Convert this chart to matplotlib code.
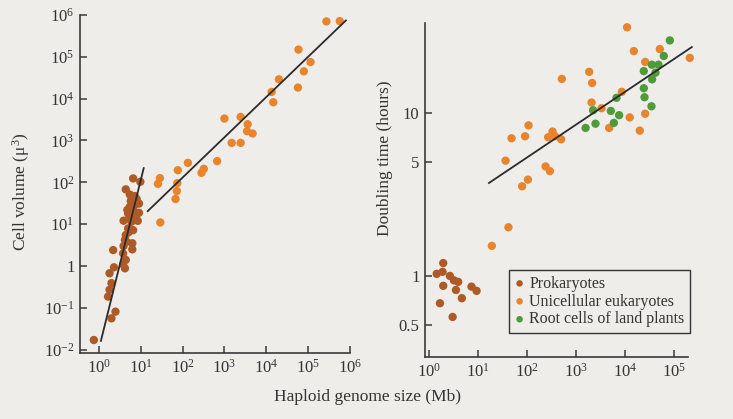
import matplotlib
matplotlib.use("Agg")
import matplotlib.pyplot as plt
from matplotlib.ticker import FixedLocator, NullLocator, FixedFormatter

plt.rcParams['font.family'] = ['Liberation Serif', 'DejaVu Serif']
plt.rcParams['mathtext.fontset'] = 'custom'
plt.rcParams['mathtext.rm'] = 'Liberation Serif'
plt.rcParams['mathtext.it'] = 'Liberation Serif:italic'

# ---------------- data: left panel (cell volume) ----------------
prok_vol_genome = [6.6, 9.8, 4.4, 5.5, 7.2, 9.1, 5.5, 6.6, 9.1, 5.0, 7.6, 3.9, 6.0, 5.0,
                   6.6, 4.4, 4.2, 6.3, 3.9, 2.2, 6.3, 3.8, 4.4, 3.8, 2.3, 4.2, 1.8, 2.0,
                   1.8, 1.66, 2.5, 2.0, 0.76, 8.0, 5.3, 5.8, 7.0, 4.8, 8.5, 5.2, 4.6]
prok_vol = [124, 103, 68, 51, 47, 31, 26, 21.7, 18.7, 18.1, 15, 12.1, 11.4, 7.9,
            7.2, 5.5, 4.2, 3.5, 3.0, 2.4, 2.5, 2.0, 1.4, 1.1, 0.93, 0.88, 0.67, 0.39,
            0.27, 0.185, 0.081, 0.056, 0.017, 40, 14, 36, 28, 22, 12, 6.5, 3.8]

euk_vol_genome = [2.73e5, 5.69e5, 5.87e4, 1.14e5, 7.9e4, 5.7e4, 2.0e4, 1.34e4, 1.47e4,
                  1000, 2440, 3590, 3470, 4720, 1490, 2440, 670, 321, 283, 134, 77, 75,
                  73, 68, 28.8, 25.8, 29.4]
euk_vol = [7.03e5, 7.14e5, 1.49e5, 7.5e4, 4.5e4, 1.84e4, 2.9e4, 1.45e4, 8.2e3,
           3350, 3660, 2450, 1670, 1470, 877, 877, 321, 210, 169, 292, 195, 96,
           62, 40, 126, 92, 11]

prok_vol_fit_x = [1.12, 11.8]
prok_vol_fit_y = [0.0162, 218]
euk_vol_fit_x = [14.7, 8.0e5]
euk_vol_fit_y = [20.5, 7.43e5]

# ---------------- data: right panel (doubling time) ----------------
prok_dt_genome = [1.96, 1.44, 1.9, 2.68, 3.24, 3.96, 1.96, 3.56, 7.4, 9.4, 4.7, 1.68, 3.05]
prok_dt = [1.20, 1.03, 1.06, 1.0, 0.94, 0.92, 0.87, 0.82, 0.86, 0.81, 0.73, 0.68, 0.56]

euk_dt_genome = [1.11e4, 1.53e4, 5.18e4, 2.12e5, 2.6e4, 1870, 2150, 518, 8690, 2090,
                 3340, 1.26e4, 2.6e4, 2.02e4, 4790, 108, 92, 48.7, 334, 272, 378, 501,
                 36.7, 241, 295, 105, 80, 42, 19.3]
euk_dt = [33.6, 24.0, 24.7, 21.8, 20.6, 17.9, 15.3, 16.2, 13.5, 11.6,
          10.7, 9.4, 9.9, 7.8, 8.1, 8.4, 7.2, 7.0, 7.7, 7.1, 7.2, 6.9,
          5.1, 4.7, 4.4, 3.9, 3.55, 1.99, 1.53]

plant_dt_genome = [8.3e4, 6.25e4, 3.56e4, 4.87e4, 2.44e4, 4.23e4, 3.6e4, 2.44e4, 2.52e4,
                   3.5e4, 6770, 2250, 5180, 7650, 5970, 2520, 1580]
plant_dt = [27.9, 22.4, 19.8, 19.8, 18.1, 17.7, 16.1, 14.2, 12.5,
            11.0, 12.4, 10.4, 10.3, 9.7, 8.7, 8.6, 8.1]

dt_fit_x = [16.8, 2.33e5]
dt_fit_y = [3.72, 25.4]

vol_ticks = [1e-2, 1e-1, 1, 10, 100, 1e3, 1e4, 1e5, 1e6]
vol_tick_labels = [r'$10^{-2}$', r'$10^{-1}$', '1', r'$10^{1}$', r'$10^{2}$',
                   r'$10^{3}$', r'$10^{4}$', r'$10^{5}$', r'$10^{6}$']
vol_xticks = [1, 10, 100, 1e3, 1e4, 1e5, 1e6]
vol_xtick_labels = [r'$10^{0}$', r'$10^{1}$', r'$10^{2}$', r'$10^{3}$',
                    r'$10^{4}$', r'$10^{5}$', r'$10^{6}$']
dt_ticks = [0.5, 1, 5, 10]
dt_tick_labels = ['0.5', '1', '5', '10']
dt_xticks = [1, 10, 100, 1e3, 1e4, 1e5]
dt_xtick_labels = [r'$10^{0}$', r'$10^{1}$', r'$10^{2}$', r'$10^{3}$',
                   r'$10^{4}$', r'$10^{5}$']

# ---------------- style ----------------
BG = '#eeedea'
C_PROK = '#ad5a26'
C_EUK = '#e8842b'
C_PLANT = '#4f9a3a'
C_AX = '#3a3a3a'
MS = 36

fig = plt.figure(figsize=(7.33, 4.19), dpi=100, facecolor=BG)
ax1 = fig.add_axes([80/733, 1-353/419, 270/733, 338/419])
ax2 = fig.add_axes([425/733, 1-357/419, 263/733, 334/419])

for ax in (ax1, ax2):
    ax.set_facecolor('none')
    ax.set_xscale('log')
    ax.set_yscale('log')
    for s in ('top', 'right'):
        ax.spines[s].set_visible(False)
    for s in ('left', 'bottom'):
        ax.spines[s].set_color(C_AX)
        ax.spines[s].set_linewidth(1.2)
    ax.tick_params(which='major', direction='in', length=5, width=1.1,
                   color=C_AX, labelsize=12, labelcolor='#333333', pad=4)
    ax.xaxis.set_minor_locator(NullLocator())
    ax.yaxis.set_minor_locator(NullLocator())

# left panel
ax1.scatter(euk_vol_genome, euk_vol, s=MS, color=C_EUK, edgecolors='none', zorder=3,
            clip_on=False)
ax1.scatter(prok_vol_genome, prok_vol, s=MS, color=C_PROK, edgecolors='none', zorder=3,
            clip_on=False)
ax1.plot(prok_vol_fit_x, prok_vol_fit_y, color='#2b2b2b', lw=1.3, zorder=4)
ax1.plot(euk_vol_fit_x, euk_vol_fit_y, color='#2b2b2b', lw=1.3, zorder=4)
ax1.set_xlim(10**-0.45, 10**6.0)
ax1.set_ylim(10**-2.08, 1e6)
ax1.xaxis.set_major_locator(FixedLocator(vol_xticks))
ax1.xaxis.set_major_formatter(FixedFormatter(vol_xtick_labels))
ax1.yaxis.set_major_locator(FixedLocator(vol_ticks))
ax1.yaxis.set_major_formatter(FixedFormatter(vol_tick_labels))
ax1.set_ylabel('Cell volume (μ$^3$)', fontsize=12.5, color='#333333')
ax1.yaxis.set_label_coords(-0.178, 0.476)

# right panel
ax2.scatter(euk_dt_genome, euk_dt, s=MS, color=C_EUK, edgecolors='none', zorder=3,
            clip_on=False)
ax2.scatter(plant_dt_genome, plant_dt, s=MS, color=C_PLANT, edgecolors='none', zorder=3,
            clip_on=False)
ax2.scatter(prok_dt_genome, prok_dt, s=MS, color=C_PROK, edgecolors='none', zorder=3,
            clip_on=False)
ax2.plot(dt_fit_x, dt_fit_y, color='#2b2b2b', lw=1.3, zorder=4, clip_on=False)
ax2.set_xlim(10**-0.08, 10**5.29)
ax2.set_ylim(0.318, 35.7)
ax2.xaxis.set_major_locator(FixedLocator(dt_xticks))
ax2.xaxis.set_major_formatter(FixedFormatter(dt_xtick_labels))
ax2.yaxis.set_major_locator(FixedLocator(dt_ticks))
ax2.yaxis.set_major_formatter(FixedFormatter(dt_tick_labels))
ax2.set_ylabel('Doubling time (hours)', fontsize=12.5, color='#333333')
ax2.yaxis.set_label_coords(-0.122, 0.596)

fig.text(367/733, 1-397/419, 'Haploid genome size (Mb)', ha='center', va='center',
         fontsize=12.5, color='#333333')

# legend
h1 = ax2.scatter([], [], s=22, color=C_PROK, edgecolors='none')
h2 = ax2.scatter([], [], s=22, color=C_EUK, edgecolors='none')
h3 = ax2.scatter([], [], s=22, color=C_PLANT, edgecolors='none')
leg = fig.legend([h1, h2, h3], ['Prokaryotes', 'Unicellular eukaryotes',
                                'Root cells of land plants'],
                 loc='upper right', bbox_to_anchor=(690/733, 1-270/419),
                 fontsize=11.5, frameon=True, fancybox=False, framealpha=1,
                 facecolor=BG, edgecolor='#333333', labelspacing=0.12,
                 handlelength=0.6, handletextpad=0.3, borderpad=0.35,
                 borderaxespad=0.0, scatterpoints=1)
leg.get_frame().set_linewidth(1.0)
for t in leg.get_texts():
    t.set_color('#333333')

fig.savefig('out.png', dpi=100, facecolor=BG)
